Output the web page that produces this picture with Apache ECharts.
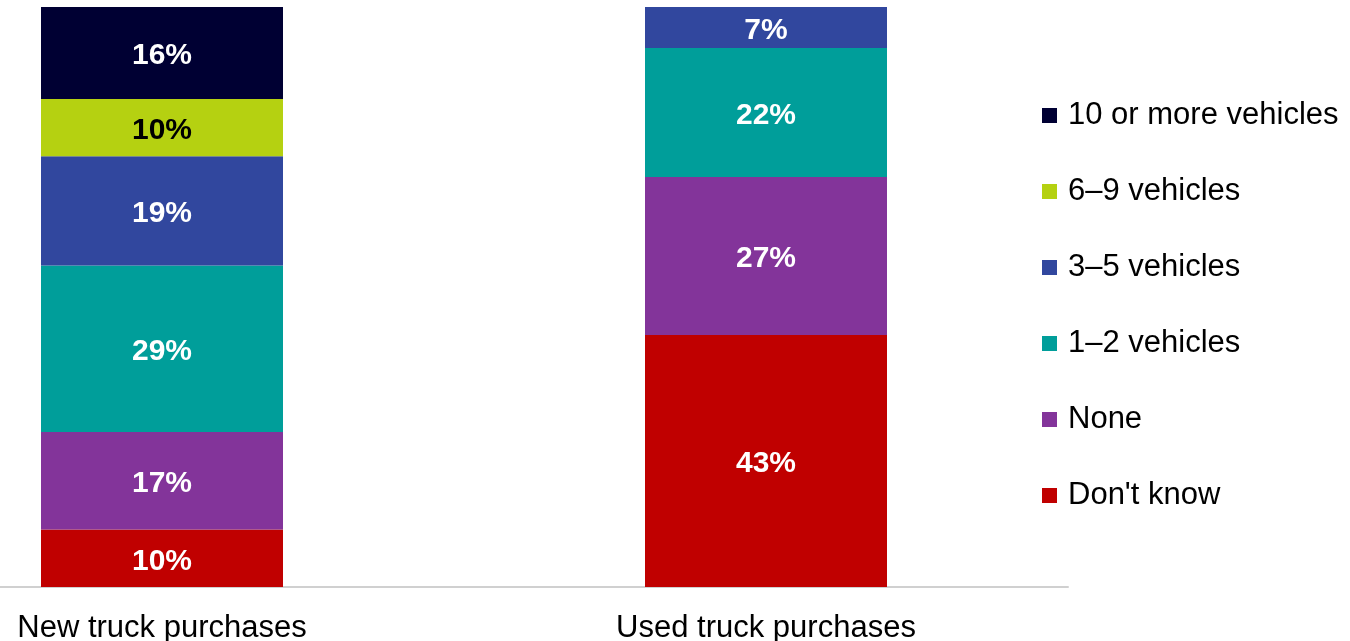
<!DOCTYPE html>
<html>
<head>
<meta charset="utf-8">
<script src="https://cdn.jsdelivr.net/npm/echarts@6/dist/echarts.min.js"></script>
<style>html,body{margin:0;padding:0;background:#fff}#c{width:1350px;height:641px}</style>
</head>
<body>
<div id="c"></div>
<script>
const categories = ['New truck purchases', 'Used truck purchases'];
const seriesNames = ["Don't know", 'None', '1–2 vehicles', '3–5 vehicles', '6–9 vehicles', '10 or more vehicles'];
const dontKnow = [10, 43];
const none = [17, 27];
const oneTwo = [29, 22];
const threeFive = [19, 7];
const sixNine = [10, 0];
const tenPlus = [16, 0];
const colors = ['#C00000', '#83349A', '#009E9A', '#31479E', '#B5D111', '#000033'];
const labelColors = ['#fff', '#fff', '#fff', '#fff', '#000', '#fff'];

const raw = [dontKnow, none, oneTwo, threeFive, sixNine, tenPlus];
const totals = categories.map((c, i) => raw.reduce((s, arr) => s + arr[i], 0));

const series = raw.map((arr, k) => ({
  name: seriesNames[k],
  type: 'bar',
  stack: 'total',
  barWidth: 242,
  itemStyle: { color: colors[k] },
  data: arr.map((v, i) => ({ value: v / totals[i] * 100, raw: v })),
  label: {
    show: true,
    position: 'inside',
    offset: [0, 3],
    color: labelColors[k],
    fontFamily: 'Liberation Sans, Arial, sans-serif',
    fontWeight: 'bold',
    fontSize: 30,
    formatter: p => p.data.raw ? p.data.raw + '%' : ''
  }
}));

const chart = echarts.init(document.getElementById('c'));
chart.setOption({
  animation: false,
  grid: { left: -140, right: 282, top: 7, bottom: 54, containLabel: false, outerBoundsMode: 'none' },
  xAxis: {
    type: 'category',
    data: categories,
    axisLine: { lineStyle: { color: '#d0d0d0', width: 2 } },
    axisTick: { show: false },
    axisLabel: { color: '#000', fontSize: 31, fontFamily: 'Liberation Sans, Arial, sans-serif', margin: 26 }
  },
  yAxis: { type: 'value', min: 0, max: 100, show: false, splitLine: { show: false } },
  legend: {
    orient: 'vertical',
    left: 1037,
    top: 95,
    itemWidth: 15,
    itemHeight: 15,
    itemGap: 45,
    icon: 'rect',
    data: seriesNames.slice().reverse(),
    textStyle: { color: '#000', fontSize: 31, fontFamily: 'Liberation Sans, Arial, sans-serif', lineHeight: 30, padding: [0, 0, 0, 6] }
  },
  series: series
});
</script>
</body>
</html>
